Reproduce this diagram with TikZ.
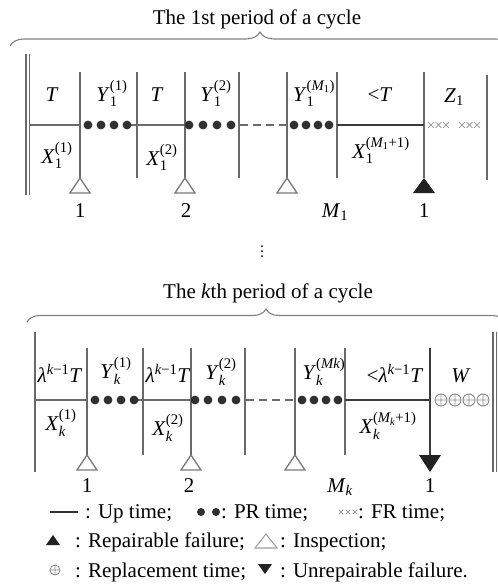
\documentclass[tikz,border=0pt]{standalone}
\usepackage{fontspec}
\usepackage{amsmath}
\setmainfont{Liberation Serif}
\usetikzlibrary{decorations.pathreplacing}
\newcommand\tx[1]{\text{#1}}
\newcommand\ti[1]{\textit{#1}}
\definecolor{vline}{HTML}{6A6A6A}
\definecolor{thickc}{HTML}{3A3A3A}
\definecolor{dotc}{HTML}{303030}
\definecolor{crossc}{HTML}{A0A0A0}
\definecolor{plusc}{HTML}{8A8A8A}
\definecolor{trio}{HTML}{7A7A7A}
\definecolor{trif}{HTML}{222222}
\definecolor{bracec}{HTML}{808080}
\tikzset{
  lab/.style={anchor=base, inner sep=0pt, font=\fontsize{21}{25}\selectfont},
  legtxt/.style={anchor=base west, inner sep=0pt, font=\fontsize{21}{25}\selectfont},
  vl/.style={draw=vline, line width=1.4pt},
  hl/.style={draw=vline, line width=1.4pt},
  thk/.style={draw=thickc, line width=2.4pt},
  dsh/.style={draw=vline, line width=1.4pt, dash pattern=on 8pt off 5pt},
  brc/.style={draw=bracec, line width=1.1pt, decorate, decoration={brace, amplitude=14pt}},
  insp/.style={draw=trio, line width=1.3pt, fill=white},
  fail/.style={fill=trif},
  pdot/.style={fill=dotc},
}
\begin{document}
\begin{tikzpicture}[x=1pt,y=-1pt]
\path[use as bounding box] (0,0) rectangle (498,587);
\clip (0,0) rectangle (498,587);

% ================= TOP =================
\node[lab] (title1) at (257,24) {The 1st period of a cycle};
\coordinate (b1s) at (10,46);
\coordinate (b1e) at (510,46);
\draw[brc] (b1s) -- (b1e);

% left double line
\draw[vl, line width=1.2pt] (26,54) coordinate (dl1t) -- (26,195) coordinate (dl1b);
\draw[vl, line width=1.2pt] (29.5,54) coordinate (dl2t) -- (29.5,195) coordinate (dl2b);

\foreach \n/\x in {a1/80, a2/137, a3/185, a4/239, a5/287, a6/337, a7/424}{
  \coordinate (\n t) at (\x,72);
  \coordinate (\n m) at (\x,125);
  \coordinate (\n b) at (\x,178);
}
\coordinate (a8t) at (487,75);
\coordinate (a8b) at (487,180);
\foreach \n in {a1,a2,a3,a4,a5,a6,a7}{\draw[vl] (\n t) -- (\n b);}
\draw[vl] (a8t) -- (a8b);

% horizontal
\coordinate (h0) at (29.5,125);
\draw[hl] (h0) -- (a1m);
\draw[hl] (129,125) coordinate (h1) -- (a3m);
\draw[dsh] (240,125) coordinate (h2) -- (a5m);
\draw[thk] (a6m) -- (a7m);
\foreach \x in {88,101,114,127, 189,203,217,231, 294,306,318,329}{
  \fill[pdot] (\x,125) circle (4.4);
}
% FR crosses
\foreach \x in {431,438.5,446, 462,469.5,477}{
  \draw[crossc, line width=0.9pt] (\x-2.9,122.1) -- (\x+2.9,127.9) (\x-2.9,127.9) -- (\x+2.9,122.1);
}
% triangles
\foreach \n in {a1,a3,a5}{
  \draw[insp] (\n b) -- ++(10,15) -- ++(-20,0) -- cycle;
}
\fill[fail] (a7b) -- ++(11,15) -- ++(-22,0) -- cycle;

% labels
\node[lab] (lT1) at (52,101) {\ti{T}};
\node[lab] (lY1) at (112,101) {\ti{Y}$_{\tx{1}}^{\tx{(1)}}$};
\node[lab] (lT2) at (157,101) {\ti{T}};
\node[lab] (lY2) at (216,101) {\ti{Y}$_{\tx{1}}^{\tx{(2)}}$};
\node[lab] (lY3) at (314,101) {\ti{Y}$_{\tx{1}}^{\tx{(}\ti{M}_{\tx{1}}\tx{)}}$};
\node[lab] (lT3) at (380,101) {<\ti{T}};
\node[lab] (lZ) at (454,102) {\ti{Z}$_{\tx{1}}$};
\node[lab] (lX1) at (57,163) {\ti{X}$_{\tx{1}}^{\tx{(1)}}$};
\node[lab] (lX2) at (162,165) {\ti{X}$_{\tx{1}}^{\tx{(2)}}$};
\node[lab] (lX3) at (381,158) {\ti{X}$_{\tx{1}}^{\tx{(}\ti{M}_{\tx{1}}\tx{+1)}}$};
\node[lab] (n1) at (80,217) {1};
\node[lab] (n2) at (186,217) {2};
\node[lab] (n3) at (335,217) {\ti{M}$_{\tx{1}}$};
\node[lab] (n4) at (424,217) {1};

% vertical ellipsis
\foreach \y in {246,251,256}{\fill[black] (262,\y) circle (1);}

% ================= BOTTOM =================
\node[lab] (title2) at (268,298) {The \ti{k}th period of a cycle};
\coordinate (b2s) at (27,322);
\coordinate (b2e) at (505,322);
\draw[brc, decoration={brace, amplitude=13pt}] (b2s) -- (b2e);

\draw[vl] (35,332) coordinate (lft) -- (35,472) coordinate (lfb);
\draw[vl, line width=1.2pt] (493,332) coordinate (dr1t) -- (493,472) coordinate (dr1b);
\draw[vl, line width=1.2pt] (496.5,332) coordinate (dr2t) -- (496.5,472) coordinate (dr2b);

\foreach \n/\x in {c1/87, c2/143, c3/191, c4/245, c5/295, c6/345, c7/430}{
  \coordinate (\n t) at (\x,348);
  \coordinate (\n m) at (\x,400);
  \coordinate (\n b) at (\x,455);
}
\foreach \n in {c1,c2,c3,c4,c5,c6}{\draw[vl] (\n t) -- (\n b);}
\draw[thk, line width=1.8pt] (c7t) -- (c7b);

\coordinate (k0) at (35,400);
\draw[hl] (k0) -- (c1m);
\draw[hl] (136,400) coordinate (k1) -- (c3m);
\draw[dsh] (246,400) coordinate (k2) -- (c5m);
\draw[thk] (c6m) -- (c7m);
\foreach \x in {95,108,121,134, 195,208,222,236, 302,314,326,338}{
  \fill[pdot] (\x,400) circle (4.4);
}
\foreach \x in {441,455,469,483}{
  \draw[plusc, line width=0.9pt] (\x,400) circle (6) (\x-6,400) -- (\x+6,400) (\x,394) -- (\x,406);
}
\foreach \n in {c1,c3,c5}{
  \draw[insp] (\n b) -- ++(10,15) -- ++(-20,0) -- cycle;
}
\fill[fail] (c7b) -- ++(11,0) -- ++(-11,17) -- ++(-11,-17) -- cycle;

\node[lab] (mL1) at (60,382) {\ti{λ}$^{\ti{k}\tx{−1}}$\ti{T}};
\node[lab] (mY1) at (116,378) {\ti{Y}$_{\ti{k}}^{\tx{(1)}}$};
\node[lab] (mL2) at (168,382) {\ti{λ}$^{\ti{k}\tx{−1}}$\ti{T}};
\node[lab] (mY2) at (221,379) {\ti{Y}$_{\ti{k}}^{\tx{(2)}}$};
\node[lab] (mY3) at (324,379) {\ti{Y}$_{\ti{k}}^{\tx{(}\ti{Mk}\tx{)}}$};
\node[lab] (mL3) at (395,382) {<\ti{λ}$^{\ti{k}\tx{−1}}$\ti{T}};
\node[lab] (mW) at (461,382) {\ti{W}};
\node[lab] (mX1) at (61,430) {\ti{X}$_{\ti{k}}^{\tx{(1)}}$};
\node[lab] (mX2) at (168,435) {\ti{X}$_{\ti{k}}^{\tx{(2)}}$};
\node[lab] (mX3) at (388,433) {\ti{X}$_{\ti{k}}^{\tx{(}\ti{M}_{\ti{k}}\tx{+1)}}$};
\node[lab] (m1) at (87,492) {1};
\node[lab] (m2) at (189,492) {2};
\node[lab] (m3) at (340,492) {\ti{M}$_{\ti{k}}$};
\node[lab] (m4) at (430,492) {1};

% ================= LEGEND =================
\draw[draw=dotc, line width=1.3pt] (50,512) coordinate (lg1a) -- (78,512) coordinate (lg1b);
\node[legtxt] (t1) at (85,518) {: Up time;};
\fill[pdot] (201,512) circle (4);
\fill[pdot] (216,512) circle (4);
\node[legtxt] (t2) at (221,518) {: PR time;};
\foreach \x in {341,348,355}{
  \draw[crossc, line width=0.8pt] (\x-2.3,509.7) -- (\x+2.3,514.3) (\x-2.3,514.3) -- (\x+2.3,509.7);
}
\node[legtxt] (t3) at (358,518) {: FR time;};

\fill[fail] (53,535) -- (60,545) -- (46,545) -- cycle;
\node[legtxt] (t4) at (75,547) {: Repairable failure;};
\draw[draw=crossc, line width=1.1pt] (266,534) -- (277,548) -- (255,548) -- cycle;
\node[legtxt] (t5) at (280,547) {: Inspection;};

\draw[plusc, line width=0.8pt] (55,570) circle (5) (50,570) -- (60,570) (55,565) -- (55,575);
\node[legtxt] (t6) at (75,577) {: Replacement time;};
\fill[fail] (258,564) -- (272,564) -- (265,574) -- cycle;
\node[legtxt] (t7) at (280,577) {: Unrepairable failure.};
\end{tikzpicture}
\end{document}
